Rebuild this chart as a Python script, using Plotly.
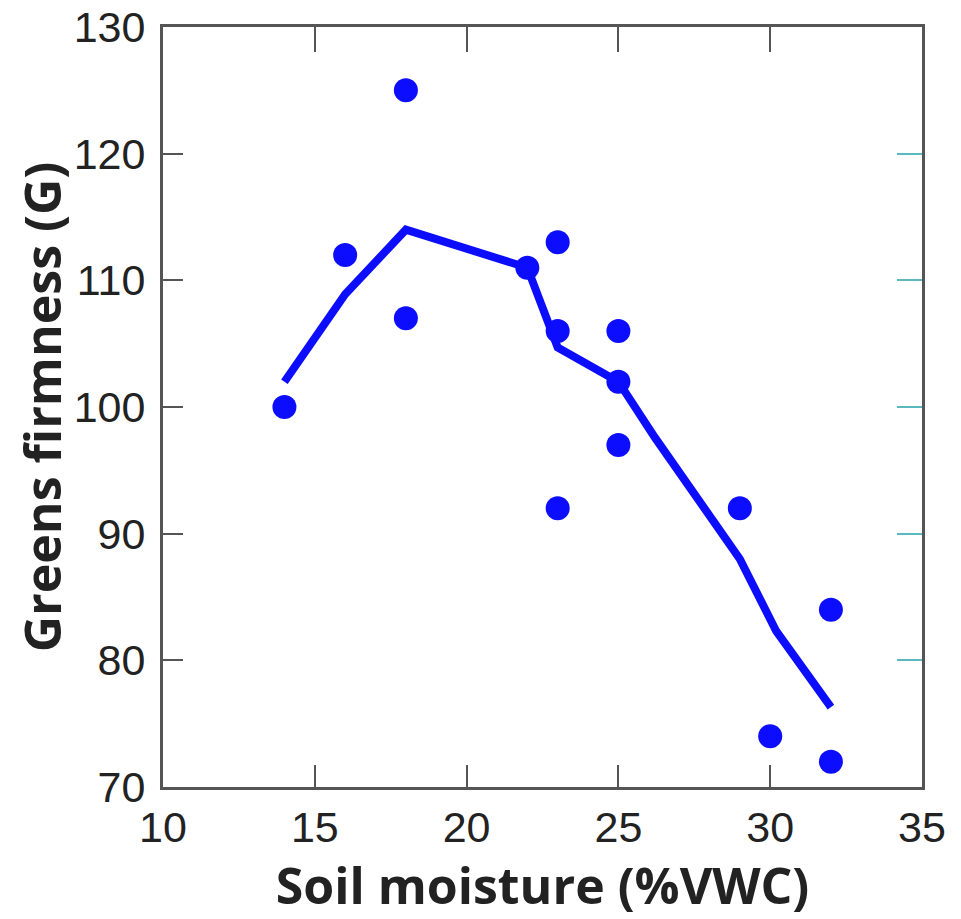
import plotly.graph_objects as go

# Observed data
moisture = [14, 16, 18, 18, 22, 23, 23, 23, 25, 25, 25, 29, 30, 32, 32]
firmness = [100, 112, 125, 107, 111, 113, 106, 92, 106, 102, 97, 92, 74, 84, 72]

# Fitted trend line
fit_x = [14, 16, 18, 22, 23, 25, 26.2, 29, 30.2, 32]
fit_y = [102, 108.9, 114, 111, 104.7, 102, 97.6, 88, 82.3, 76.3]

x_ticks = [10, 15, 20, 25, 30, 35]
y_ticks = [70, 80, 90, 100, 110, 120, 130]

blue = "#0c0cff"
axis_col = "#555555"
teal = "#5ab8bf"

fig = go.Figure()
fig.add_trace(go.Scatter(x=fit_x, y=fit_y, mode="lines",
                         line=dict(color=blue, width=8), hoverinfo="skip"))
fig.add_trace(go.Scatter(x=moisture, y=firmness, mode="markers",
                         marker=dict(color=blue, size=24)))

tickfont = dict(family="Liberation Sans, Arial, sans-serif", size=43, color="#222222")
titlefont = dict(family="Open Sans, sans-serif", size=50, color="#222222", weight="bold")

fig.update_layout(
    width=961, height=919,
    margin=dict(l=155, r=47, t=19, b=140),
    paper_bgcolor="white", plot_bgcolor="white",
    showlegend=False,
    xaxis=dict(range=[10, 35], tickvals=x_ticks, ticks="inside", ticklen=22,
               tickwidth=2, tickcolor=axis_col, showline=True, linecolor=axis_col,
               linewidth=3, showgrid=False, zeroline=False, tickfont=tickfont,
               automargin=False, ticklabeloverflow="allow",
               title=dict(text="Soil moisture (%VWC)", font=titlefont, standoff=0)),
    yaxis=dict(range=[70, 130], tickvals=y_ticks, ticks="inside", ticklen=20,
               tickwidth=2, tickcolor=axis_col, showline=True, linecolor=axis_col,
               linewidth=3, showgrid=False, zeroline=False, tickfont=tickfont,
               ticklabelstandoff=6, automargin=False, ticklabeloverflow="allow",
               title=dict(text="Greens firmness (G)", font=titlefont, standoff=4)),
    xaxis2=dict(range=[10, 35], tickvals=x_ticks, overlaying="x", side="top",
                ticks="inside", ticklen=25, tickwidth=2, tickcolor=axis_col,
                showline=True, linecolor=axis_col, linewidth=3, automargin=False,
                showticklabels=False, showgrid=False, zeroline=False),
    yaxis2=dict(range=[70, 130], tickvals=y_ticks[1:-1], overlaying="y", side="right",
                ticks="inside", ticklen=25, tickwidth=2, tickcolor=teal,
                showline=True, linecolor=axis_col, linewidth=3, automargin=False,
                showticklabels=False, showgrid=False, zeroline=False),
)
# invisible trace to activate overlay axes
fig.add_trace(go.Scatter(x=[10], y=[70], xaxis="x2", yaxis="y2", mode="markers",
                         marker=dict(opacity=0), hoverinfo="skip"))

fig.write_html("out.html")
